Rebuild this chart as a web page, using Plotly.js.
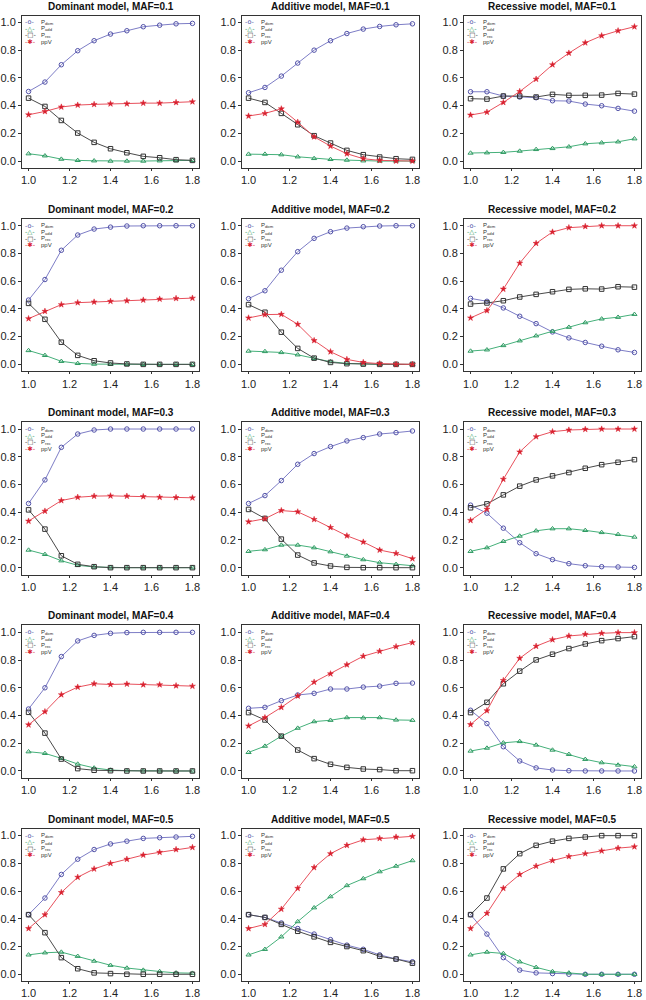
<!DOCTYPE html>
<html>
<head>
<meta charset="utf-8">
<script src="https://cdn.plot.ly/plotly-3.0.1.min.js"></script>
<style>
body { margin: 0; background: #fff; }
#grid { width: 646px; height: 1000px; }
</style>
</head>
<body>
<div id="grid"></div>
<script>
// relative risk on x, same for every panel
let ratio = [1.0, 1.08, 1.16, 1.24, 1.32, 1.4, 1.48, 1.56, 1.64, 1.72, 1.8];
let models = ["Dominant", "Additive", "Recessive"];
let mafs = ["0.1", "0.2", "0.3", "0.4", "0.5"];

// one row per panel, row-major (MAF row, model column)
let pDom = [
  [0.502,0.570,0.695,0.796,0.868,0.916,0.940,0.969,0.980,0.990,0.993],
  [0.493,0.531,0.613,0.707,0.800,0.868,0.920,0.952,0.971,0.983,0.990],
  [0.500,0.500,0.469,0.462,0.457,0.435,0.433,0.411,0.399,0.380,0.360],
  [0.464,0.612,0.823,0.933,0.976,0.990,0.998,1,1,1,1],
  [0.474,0.531,0.679,0.813,0.909,0.957,0.983,0.993,0.998,1,1],
  [0.476,0.455,0.407,0.347,0.294,0.234,0.191,0.158,0.131,0.105,0.086],
  [0.463,0.633,0.868,0.964,0.993,1,1,1,1,1,1],
  [0.463,0.520,0.628,0.746,0.823,0.873,0.914,0.938,0.964,0.974,0.986],
  [0.451,0.393,0.285,0.180,0.101,0.058,0.029,0.014,0.007,0.005,0.002],
  [0.447,0.600,0.825,0.938,0.978,0.993,0.998,1,1,1,1],
  [0.452,0.459,0.507,0.548,0.560,0.591,0.591,0.605,0.612,0.632,0.634],
  [0.438,0.342,0.175,0.072,0.022,0.007,0.002,0,0,0,0],
  [0.43,0.55,0.72,0.83,0.90,0.94,0.96,0.98,0.985,0.99,0.995],
  [0.43,0.41,0.37,0.33,0.29,0.25,0.21,0.18,0.14,0.11,0.09],
  [0.43,0.29,0.12,0.03,0.01,0.005,0,0,0,0,0]
];
let pAdd = [
  [0.053,0.038,0.014,0.005,0.002,0,0,0,0.002,0.003,0.005],
  [0.050,0.050,0.046,0.031,0.019,0.012,0.007,0.002,0,0,0],
  [0.058,0.060,0.063,0.072,0.084,0.091,0.103,0.125,0.132,0.139,0.161],
  [0.100,0.065,0.022,0.007,0.002,0,0,0,0,0,0],
  [0.096,0.093,0.086,0.069,0.043,0.019,0.007,0.002,0,0,0],
  [0.096,0.105,0.136,0.170,0.206,0.239,0.268,0.301,0.328,0.340,0.361],
  [0.127,0.096,0.050,0.017,0.005,0,0,0,0,0,0],
  [0.118,0.130,0.163,0.163,0.144,0.115,0.084,0.058,0.036,0.024,0.014],
  [0.118,0.144,0.190,0.228,0.266,0.281,0.281,0.269,0.254,0.240,0.221],
  [0.139,0.127,0.091,0.050,0.022,0.007,0.002,0,0,0,0],
  [0.134,0.179,0.251,0.309,0.356,0.366,0.385,0.383,0.385,0.368,0.366],
  [0.144,0.165,0.203,0.213,0.187,0.151,0.120,0.084,0.060,0.043,0.031],
  [0.14,0.155,0.16,0.13,0.095,0.065,0.045,0.03,0.02,0.01,0.008],
  [0.14,0.18,0.27,0.38,0.48,0.56,0.64,0.69,0.74,0.78,0.82],
  [0.14,0.16,0.15,0.09,0.05,0.02,0.01,0,0,0,0]
];
let pRec = [
  [0.454,0.394,0.293,0.202,0.135,0.089,0.060,0.034,0.024,0.010,0.005],
  [0.454,0.423,0.344,0.262,0.183,0.130,0.077,0.046,0.029,0.017,0.012],
  [0.450,0.447,0.469,0.469,0.462,0.481,0.474,0.474,0.476,0.488,0.483],
  [0.440,0.325,0.160,0.065,0.026,0.010,0.003,0,0,0,0],
  [0.431,0.376,0.232,0.115,0.045,0.014,0.005,0.002,0,0,0],
  [0.435,0.443,0.459,0.486,0.505,0.524,0.541,0.545,0.543,0.560,0.557],
  [0.417,0.278,0.086,0.024,0.007,0,0,0,0,0,0],
  [0.420,0.355,0.206,0.091,0.034,0.012,0.002,0,0,0,0],
  [0.432,0.460,0.525,0.588,0.633,0.662,0.686,0.717,0.743,0.760,0.779],
  [0.423,0.273,0.086,0.017,0.005,0.002,0,0,0,0,0],
  [0.421,0.368,0.251,0.151,0.089,0.048,0.026,0.014,0.010,0.002,0.002],
  [0.421,0.495,0.629,0.720,0.801,0.842,0.883,0.916,0.940,0.955,0.969],
  [0.43,0.30,0.12,0.04,0.01,0.005,0,0,0,0,0],
  [0.43,0.41,0.36,0.31,0.27,0.23,0.20,0.17,0.13,0.11,0.08],
  [0.43,0.55,0.76,0.87,0.93,0.96,0.98,0.99,1,1,1]
];
let ppV = [
  [0.334,0.358,0.390,0.404,0.409,0.413,0.413,0.418,0.418,0.423,0.428],
  [0.325,0.344,0.377,0.281,0.175,0.108,0.053,0.017,0.005,0,0],
  [0.332,0.353,0.423,0.502,0.591,0.695,0.779,0.853,0.904,0.940,0.969],
  [0.330,0.383,0.431,0.445,0.450,0.455,0.459,0.464,0.471,0.476,0.478],
  [0.335,0.359,0.361,0.289,0.172,0.091,0.036,0.014,0.005,0,0],
  [0.335,0.388,0.543,0.730,0.873,0.955,0.986,0.995,1,1,1],
  [0.336,0.408,0.484,0.508,0.516,0.518,0.516,0.513,0.508,0.506,0.504],
  [0.331,0.353,0.412,0.403,0.348,0.290,0.230,0.185,0.127,0.103,0.065],
  [0.341,0.422,0.638,0.835,0.945,0.981,0.993,0.998,1,1,1],
  [0.333,0.428,0.550,0.605,0.629,0.624,0.627,0.622,0.622,0.615,0.612],
  [0.325,0.385,0.459,0.541,0.641,0.701,0.766,0.828,0.864,0.897,0.926],
  [0.335,0.435,0.653,0.813,0.900,0.947,0.974,0.986,0.993,0.998,0.998],
  [0.33,0.43,0.59,0.70,0.76,0.80,0.83,0.86,0.88,0.90,0.915],
  [0.33,0.36,0.47,0.62,0.77,0.87,0.93,0.97,0.98,0.99,0.995],
  [0.33,0.44,0.62,0.72,0.78,0.82,0.85,0.87,0.89,0.91,0.92]
];

let seriesNames = ["P<sub>dom</sub>", "P<sub>add</sub>", "P<sub>rec</sub>", "ppV"];
let seriesData = [pDom, pAdd, pRec, ppV];
let lineColors = ["#7d7dc6", "#45b07a", "#4a4a4a", "#e8505c"];
let markColors = ["#5252a8", "#2f9a62", "#333333", "#d8202f"];
let symbols = ["circle-open", "triangle-up-open", "square-open", "star"];
let keyGlyphs = ["o", "\u25B3", "\u25A1", "\u2731"];

let W = 646, H = 1000;
let colLeft = [22, 242, 464];
let boxW = 177, boxH = 152.5;

let font = "Liberation Sans, Arial, Helvetica, sans-serif";
let traces = [];
let layout = {
    width: W,
    height: H,
    margin: {l: 0, r: 0, t: 0, b: 0},
    paper_bgcolor: "#fff",
    plot_bgcolor: "#fff",
    showlegend: false,
    font: {family: font, color: "#222"},
    annotations: []
};

for (let r = 0; r < mafs.length; r++) {
    for (let c = 0; c < models.length; c++) {
        let p = r * 3 + c;
        let n = p + 1;
        let xa = n == 1 ? "x" : "x" + n;
        let ya = n == 1 ? "y" : "y" + n;
        let top = 15.5 + 203.3 * r;
        let left = colLeft[c];

        layout["xaxis" + (n == 1 ? "" : n)] = {
            domain: [left / W, (left + boxW) / W],
            anchor: ya,
            range: [0.968, 1.832],
            tickvals: [1.0, 1.2, 1.4, 1.6, 1.8],
            tickformat: ".1f",
            ticks: "outside", ticklen: 2, tickcolor: "#333",
            showline: true, mirror: true, linecolor: "#333", linewidth: 1,
            showgrid: false, zeroline: false,
            tickfont: {size: 11, color: "#222", family: font}
        };
        layout["yaxis" + (n == 1 ? "" : n)] = {
            domain: [1 - (top + boxH) / H, 1 - top / H],
            anchor: xa,
            range: [-0.05, 1.05],
            tickvals: [0, 0.2, 0.4, 0.6, 0.8, 1.0],
            tickformat: ".1f",
            ticks: "outside", ticklen: 3, tickcolor: "#333",
            showline: true, mirror: true, linecolor: "#333", linewidth: 1,
            showgrid: false, zeroline: false,
            tickfont: {size: 11, color: "#222", family: font}
        };

        for (let s = 0; s < 4; s++) {
            traces.push({
                x: ratio,
                y: seriesData[s][p],
                xaxis: xa,
                yaxis: ya,
                type: "scatter",
                mode: "lines+markers",
                name: seriesNames[s],
                hoverinfo: "skip",
                line: {color: lineColors[s], width: 1},
                marker: {
                    symbol: symbols[s],
                    size: 4.5,
                    color: markColors[s],
                    line: {color: markColors[s], width: s == 3 ? 0.5 : 1}
                }
            });

            // small legend in top-left corner of each panel
            let ly = 1.0 - 0.047 * s;
            layout.annotations.push({
                xref: xa + " domain", yref: ya,
                x: 0.006, y: ly,
                xanchor: "left", yanchor: "middle",
                showarrow: false,
                text: "-" + keyGlyphs[s] + "-",
                font: {size: 6.5, color: markColors[s], family: "DejaVu Sans, sans-serif"}
            });
            layout.annotations.push({
                xref: xa + " domain", yref: ya,
                x: 0.094, y: ly,
                xanchor: "left", yanchor: "middle",
                showarrow: false,
                text: seriesNames[s],
                font: {size: 6, color: "#333", family: font}
            });
        }

        layout.annotations.push({
            xref: "paper", yref: "paper",
            x: (left + boxW / 2) / W,
            y: 1 - (top - 9.5) / H,
            xanchor: "center", yanchor: "middle",
            showarrow: false,
            text: models[c] + " model, MAF=" + mafs[r],
            font: {size: 10, color: "#111", family: font, weight: 700}
        });
    }
}

Plotly.newPlot("grid", traces, layout, {staticPlot: true});
</script>
</body>
</html>
